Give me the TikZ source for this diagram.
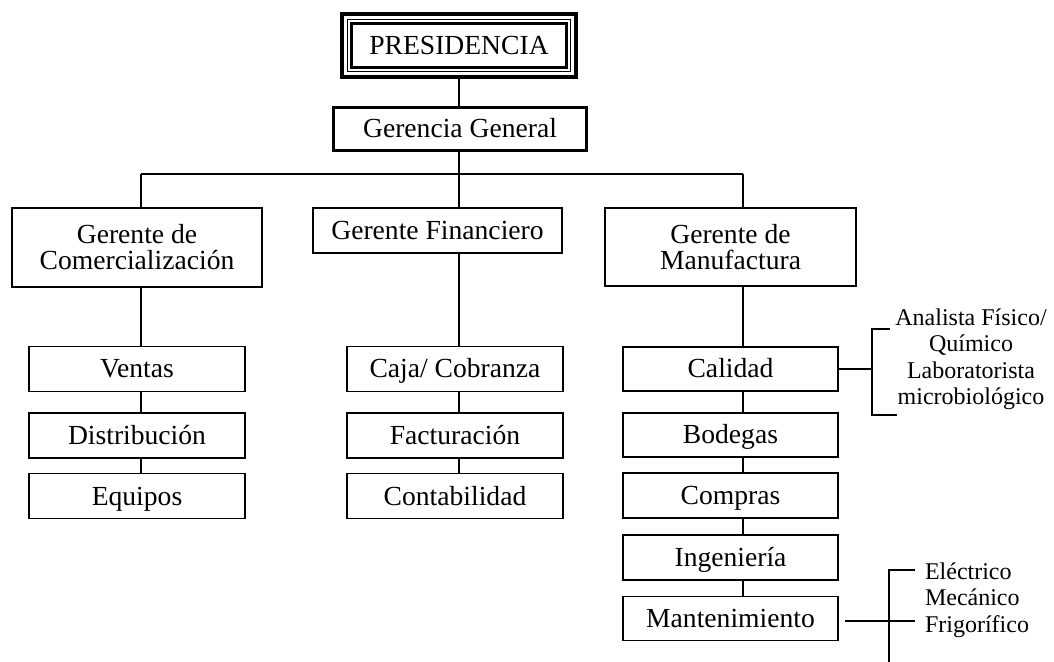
\documentclass[tikz,border=0pt]{standalone}
\usepackage{fontspec}
\setmainfont{Liberation Serif}
\usetikzlibrary{fit,calc}
\begin{document}
\begin{tikzpicture}[x=0.5pt,y=-0.5pt,
  box/.style={draw, line width=0.75pt, outer sep=0pt, inner sep=0pt, align=center, font=\fontsize{13.8}{13}\selectfont},
  one/.style={box, text height=11pt, text depth=2pt},
  ln/.style={line width=0.75pt},
  small/.style={font=\fontsize{12}{13.25}\selectfont, inner sep=0pt, outer sep=0pt}]
\useasboundingbox (0,0) rectangle (1054,662);
% top
\node[one, line width=1.5pt, minimum width=107.5pt, minimum height=22pt] (pres) at (459,46) {PRESIDENCIA};
\node[fit=(pres), inner sep=2pt, draw, line width=0.5pt, outer sep=0pt] (presmid) {};
\node[fit=(pres), inner sep=4.75pt, draw, line width=2pt, outer sep=0pt] (presout) {};
\node[one, line width=1.5pt, minimum width=126.5pt, minimum height=21.5pt] (gg) at (460,129) {Gerencia General};
% managers
\node[box, minimum width=125pt, minimum height=39.5pt] (gc) at (137,247.5) {Gerente de\\Comercialización};
\node[one, minimum width=124.5pt, minimum height=22.5pt] (gf) at (437.5,230.5) {Gerente Financiero};
\node[box, minimum width=125.5pt, minimum height=39pt] (gm) at (730.5,247) {Gerente de\\Manufactura};
% left column
\node[one, minimum width=108pt, minimum height=22.5pt] (ven) at (137,369) {Ventas};
\node[one, minimum width=108pt, minimum height=22.5pt] (dis) at (137,435.5) {Distribución};
\node[one, minimum width=108pt, minimum height=22.5pt] (equ) at (137,496) {Equipos};
% middle column
\node[one, minimum width=108pt, minimum height=22.5pt] (caja) at (455,369) {Caja/ Cobranza};
\node[one, minimum width=108pt, minimum height=22.5pt] (fac) at (455,435.5) {Facturación};
\node[one, minimum width=108pt, minimum height=22.5pt] (con) at (455,496) {Contabilidad};
% right column
\node[one, minimum width=107.5pt, minimum height=22pt] (cal) at (730.5,369) {Calidad};
\node[one, minimum width=107.5pt, minimum height=22pt] (bod) at (730.5,435) {Bodegas};
\node[one, minimum width=107.5pt, minimum height=22.5pt] (com) at (730.5,495.5) {Compras};
\node[one, minimum width=107.5pt, minimum height=22.5pt] (ing) at (730.5,557.5) {Ingeniería};
\node[one, minimum width=107.5pt, minimum height=22pt] (man) at (730.5,618.5) {Mantenimiento};
% side texts
\node[small, align=center] (anal) at (971,359) {Analista Físico/\\Químico\\Laboratorista\\microbiológico};
\node[small, align=left, anchor=west] (mant) at (925,600) {Eléctrico\\Mecánico\\Frigorífico};
% coordinates
\coordinate (hl) at (141,174);
\coordinate (hc) at (459,174);
\coordinate (hr) at (743,174);
% connectors
\draw[ln] (presout.south) -- (presout.south |- gg.north);
\draw[ln] (gg.south -| hc) -- (hc);
\draw[ln] (hl) -- (hr);
\draw[ln] (hl) -- (hl |- gc.north);
\draw[ln] (hc) -- (hc |- gf.north);
\draw[ln] (hr) -- (hr |- gm.north);
\draw[ln] (hl |- gc.south) -- (hl |- ven.north);
\draw[ln] (hl |- ven.south) -- (hl |- dis.north);
\draw[ln] (hl |- dis.south) -- (hl |- equ.north);
\draw[ln] (hc |- gf.south) -- (hc |- caja.north);
\draw[ln] (hc |- caja.south) -- (hc |- fac.north);
\draw[ln] (hc |- fac.south) -- (hc |- con.north);
\draw[ln] (hr |- gm.south) -- (hr |- cal.north);
\draw[ln] (hr |- cal.south) -- (hr |- bod.north);
\draw[ln] (hr |- bod.south) -- (hr |- com.north);
\draw[ln] (hr |- com.south) -- (hr |- ing.north);
\draw[ln] (hr |- ing.south) -- (hr |- man.north);
% calidad bracket
\coordinate (cb) at (872,369);
\coordinate (cbt) at (872,329);
\coordinate (cbb) at (872,415);
\coordinate (cbte) at (890,329);
\coordinate (cbbe) at (897,415);
\draw[ln] (cal.east) -- (cb);
\draw[ln] (cbte) -- (cbt) -- (cbb) -- (cbbe);
% mantenimiento bracket
\coordinate (mb0) at (845,621);
\coordinate (mb1) at (915,621);
\coordinate (mvt) at (889,570);
\coordinate (mvb) at (889,662);
\coordinate (mte) at (915,570);
\draw[ln] (mb0) -- (mb1);
\draw[ln] (mte) -- (mvt) -- (mvb);
\end{tikzpicture}
\end{document}
